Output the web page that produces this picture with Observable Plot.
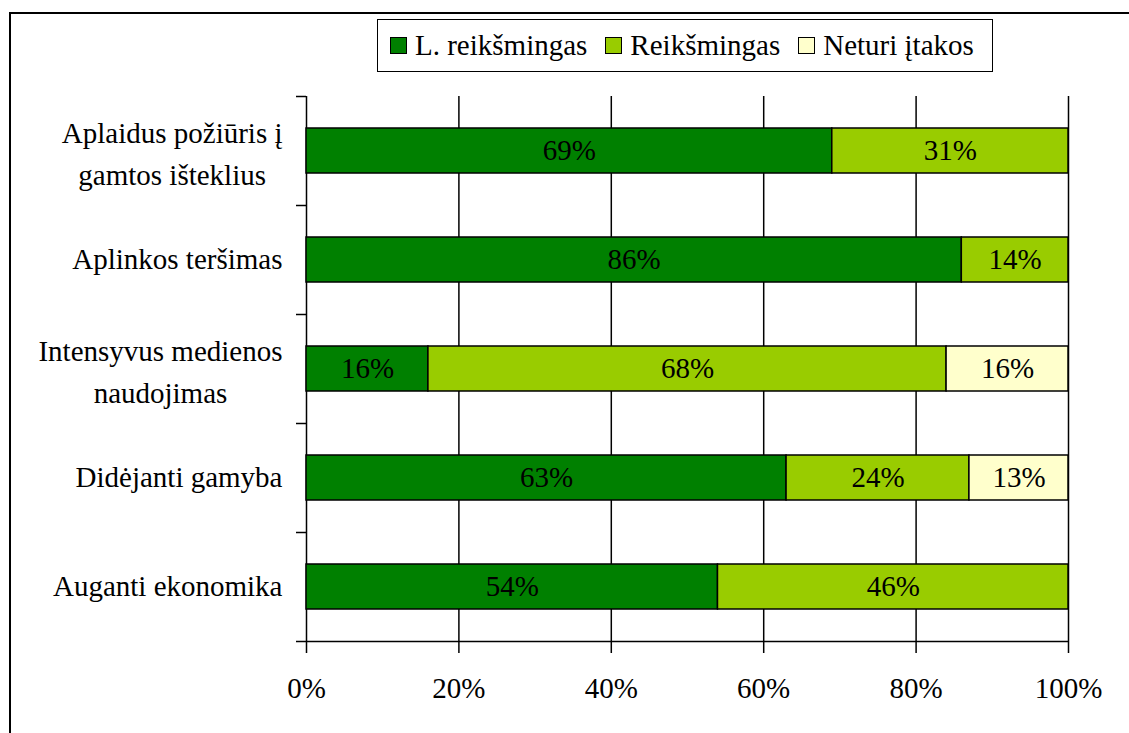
<!DOCTYPE html>
<html>
<head>
<meta charset="utf-8">
<script src="https://cdn.jsdelivr.net/npm/d3@7"></script>
<script src="https://cdn.jsdelivr.net/npm/@observablehq/plot@0.6"></script>
<style>
  html, body { margin: 0; padding: 0; background: #fff; overflow: hidden; width: 1129px; height: 733px; }
  #wrap { position: relative; width: 1129px; height: 733px; font-family: "Liberation Serif", Tinos, "Times New Roman", "DejaVu Serif", serif; }
  #frame { position: absolute; left: 9px; top: 12px; width: 1300px; height: 900px; border: 2px solid #000; box-sizing: border-box; }
  #legend { position: absolute; left: 377px; top: 19px; width: 616px; height: 53px; border: 1.5px solid #000; box-sizing: border-box; background: #fff;
            display: flex; flex-wrap: nowrap; align-items: center; font-size: 29px; padding-left: 12px; white-space: nowrap; overflow: visible; }
  .item { display: flex; align-items: center; margin-right: 18px; flex: 0 0 auto; white-space: nowrap; }
  .sw { width: 17px; height: 17px; border: 1.5px solid #000; box-sizing: border-box; margin-right: 8px; flex: 0 0 auto; }
  #chart { position: absolute; left: 0; top: 0; }
</style>
</head>
<body>
<div id="wrap">
  <div id="frame"></div>
  <div id="chart"></div>
  <div id="legend"></div>
</div>
<script>
const categories = [
  "Aplaidus požiūris į\ngamtos išteklius",
  "Aplinkos teršimas",
  "Intensyvus medienos\nnaudojimas",
  "Didėjanti gamyba",
  "Auganti ekonomika"
];
const series = ["L. reikšmingas", "Reikšmingas", "Neturi įtakos"];
const colors = ["#008000", "#99CC00", "#FFFFCC"];
const lReiksmingas = [69, 86, 16, 63, 54];
const reiksmingas = [31, 14, 68, 24, 46];
const neturiItakos = [0, 0, 16, 13, 0];
const xTicks = [0, 20, 40, 60, 80, 100];

const seriesValues = [lReiksmingas, reiksmingas, neturiItakos];
const data = [];
categories.forEach((c, i) => {
  series.forEach((s, j) => {
    data.push({cat: c, series: s, value: seriesValues[j][i]});
  });
});
const nonZero = data.filter(d => d.value > 0);

const W = 1129, H = 733;
const mL = 306, mR = 61, mT = 96, mB = 92;
const step = (H - mT - mB) / categories.length;
const FONT_STACK = '"Liberation Serif", Tinos, "Times New Roman", "DejaVu Serif", serif';
const FS = 29;

const ctx = document.createElement("canvas").getContext("2d");
ctx.font = `${FS}px ${FONT_STACK}`;
const labelMarks = categories.map(c => {
  const lines = c.split("\n");
  if (lines.length === 1) {
    return Plot.text([c], {y: d => d, text: d => d, frameAnchor: "left", textAnchor: "end", dx: -24, fontSize: FS});
  }
  const w = Math.max(...lines.map(l => ctx.measureText(l).width));
  return Plot.text([c], {y: d => d, text: d => d, frameAnchor: "left", textAnchor: "middle", dx: -24 - w / 2, lineHeight: 1.45, fontSize: FS});
});

const chart = Plot.plot({
  width: W,
  height: H,
  marginLeft: mL, marginRight: mR, marginTop: mT, marginBottom: mB,
  style: {fontFamily: FONT_STACK, fontSize: FS + "px", color: "#000", background: "transparent", overflow: "visible"},
  x: {domain: [0, 100], ticks: xTicks, tickFormat: d => d + "%", tickSize: 0, tickPadding: 36, label: null},
  y: {domain: categories, paddingInner: 0.59, paddingOuter: 0.295, axis: null},
  color: {domain: series, range: colors},
  marks: [
    Plot.ruleX(xTicks, {x: d => d, stroke: "#000", strokeWidth: 1.5, insetBottom: -12}),
    Plot.ruleY(categories, {y: d => d, x1: 0, x2: 0, insetLeft: -10, dy: -step / 2, stroke: "#000", strokeWidth: 1.5}),
    Plot.ruleY([categories[categories.length - 1]], {y: d => d, x1: 0, x2: 100, insetLeft: -10, dy: step / 2, stroke: "#000", strokeWidth: 1.5}),
    Plot.barX(nonZero, {y: "cat", x: "value", fill: "series", stroke: "#000", strokeWidth: 1.5}),
    Plot.text(nonZero, Plot.stackX({y: "cat", x: "value", text: d => d.value + "%", fill: "#000", fontSize: FS})),
    ...labelMarks
  ]
});
document.getElementById("chart").appendChild(chart);

const legend = document.getElementById("legend");
series.forEach((s, i) => {
  const it = document.createElement("div");
  it.className = "item";
  const sw = document.createElement("div");
  sw.className = "sw";
  sw.style.background = colors[i];
  const t = document.createElement("span");
  t.textContent = s;
  it.appendChild(sw);
  it.appendChild(t);
  legend.appendChild(it);
});
</script>
</body>
</html>
